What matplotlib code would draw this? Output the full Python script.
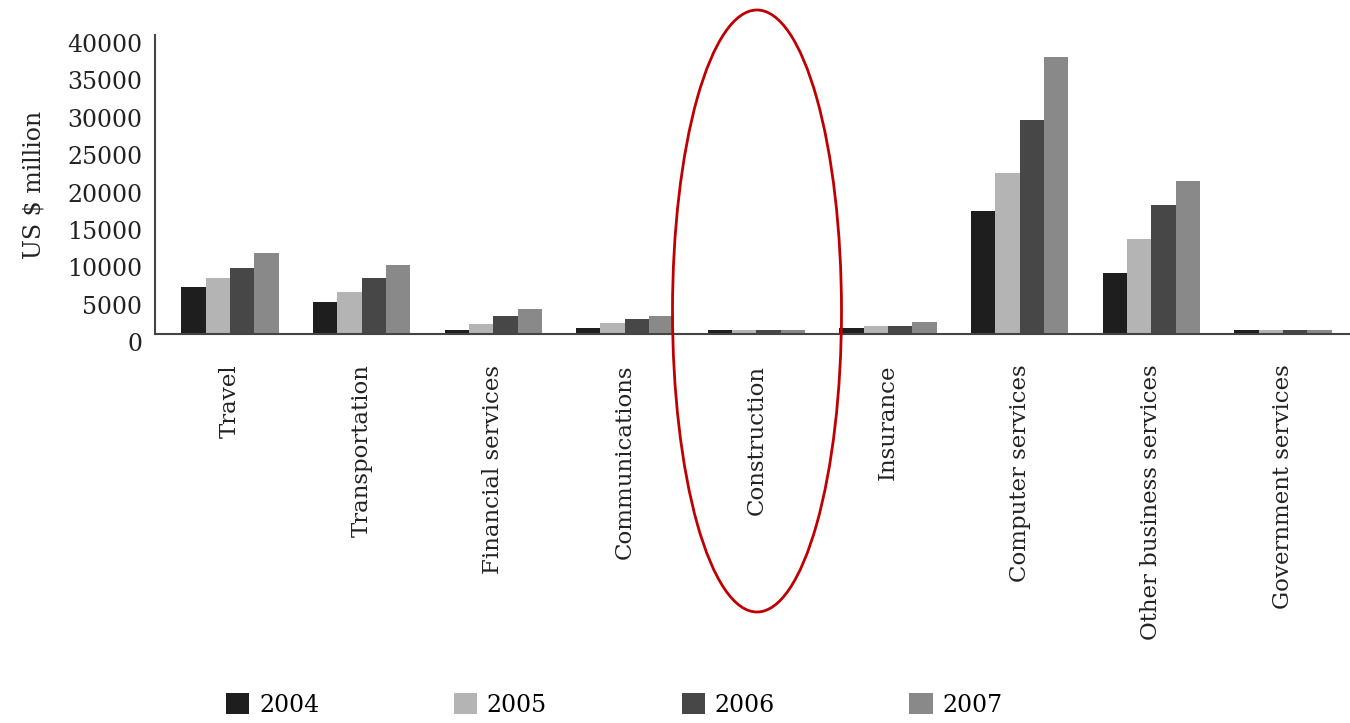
import numpy as np
import matplotlib
matplotlib.use("Agg")
import matplotlib.pyplot as plt
from matplotlib.patches import Ellipse
import matplotlib.transforms as mtransforms

categories = ["Travel", "Transportation", "Financial services", "Communications",
              "Construction", "Insurance", "Computer services",
              "Other business services", "Government services"]
years = ["2004", "2005", "2006", "2007"]
v2004 = [6300, 4300, 600, 850, 600, 850, 16500, 8100, 600]
v2005 = [7450, 5650, 1300, 1500, 550, 1050, 21550, 12750, 550]
v2006 = [8800, 7450, 2400, 1950, 550, 1100, 28600, 17200, 550]
v2007 = [10800, 9200, 3300, 2400, 550, 1600, 37000, 20450, 550]
colors = ["#1e1e1e", "#b4b4b4", "#474747", "#898989"]

plt.rcParams['font.family'] = ['DejaVu Serif']
fs = 16

fig = plt.figure(figsize=(13.5, 7.23), dpi=100)
ax = fig.add_axes([155/1350, 1-334/723, 1-155/1350, (334-35)/723])

x = np.arange(len(categories))
w = 0.185
series = [v2004, v2005, v2006, v2007]
for i, (vals, c, yr) in enumerate(zip(series, colors, years)):
    ax.bar(x + (i - 1.5)*w, vals, w, color=c, label=yr)

ax.set_xlim(-0.57, len(categories) - 1 + 0.51)
ax.set_ylim(0, 40000)
ax.set_yticks(range(0, 40001, 5000))
ax.set_xticks(x)
ax.set_xticklabels(categories, rotation=90, fontsize=fs+0.5, color="#222222")
ax.tick_params(axis='x', length=0, pad=22)
ax.tick_params(axis='y', length=0, labelsize=fs+1, labelcolor="#222222", pad=9)
off = mtransforms.ScaledTranslation(0, -8/100, fig.dpi_scale_trans)
for lab in ax.get_yticklabels():
    lab.set_transform(lab.get_transform() + off)
for s in ["top", "right"]:
    ax.spines[s].set_visible(False)
for s in ["left", "bottom"]:
    ax.spines[s].set_color("#444444")
    ax.spines[s].set_linewidth(1.5)
ax.set_ylabel("US $ million", fontsize=fs+1, color="#222222", labelpad=16)

fig.legend(loc="center", bbox_to_anchor=(0.455, 1-705/723), ncol=4, frameon=False,
           fontsize=fs+1, handlelength=1.0, handleheight=1.0, handletextpad=0.4,
           columnspacing=5.7)

ell = Ellipse((757/1350, 1-311/723), 169/1350, 602/723, transform=fig.transFigure,
              fill=False, edgecolor="#c00000", linewidth=2)
fig.patches.append(ell)

fig.savefig("out.png", dpi=100)
